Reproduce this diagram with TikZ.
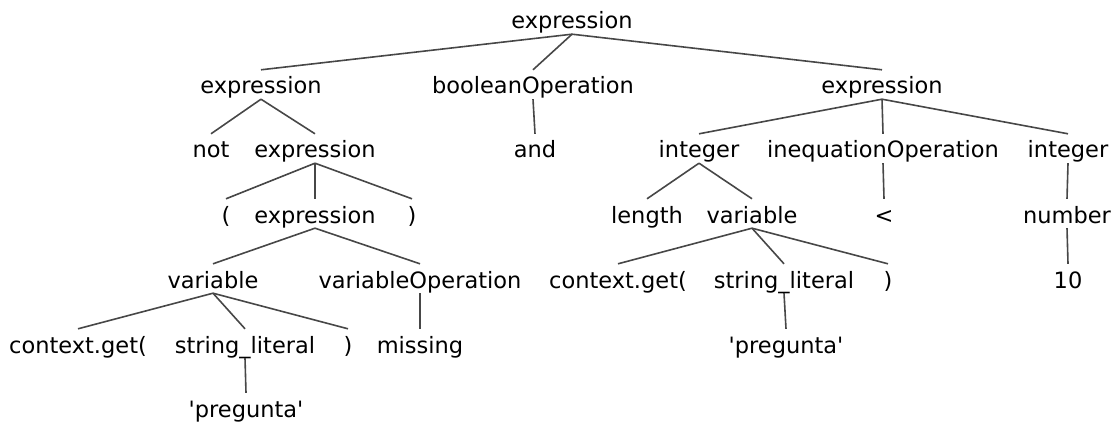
\documentclass[tikz,border=0pt]{standalone}
\usepackage{fontspec}
% a family without TeX ligatures keeps the straight quote
\newfontfamily\treefont{DejaVu Sans}
\begin{document}
\begin{tikzpicture}[x=1pt,y=-1pt,
  tok/.style={anchor=base,inner xsep=0pt,inner ysep=0pt,
    text height=24pt,text depth=5pt,font=\treefont\fontsize{22.5}{26}\selectfont},
  edge/.style={draw=black!72,line width=1.6pt}]
\useasboundingbox (0,0) rectangle (1115,422);
% baselines of the seven rows
\def\ra{29}\def\rb{94}\def\rc{158}\def\rd{223}\def\re{288}\def\rf{353}\def\rg{417}
% row 0
\node[tok] (r)   at (572,\ra) {expression};
% row 1
\node[tok] (e1)  at (261,\rb) {expression};
\node[tok] (bo)  at (533,\rb) {booleanOperation};
\node[tok] (e2)  at (882,\rb) {expression};
% row 2
\node[tok] (nt)  at (211,\rc) {not};
\node[tok] (e3)  at (315,\rc) {expression};
\node[tok] (an)  at (535,\rc) {and};
\node[tok] (i1)  at (699,\rc) {integer};
\node[tok] (io)  at (883,\rc) {inequationOperation};
\node[tok] (i2)  at (1068,\rc) {integer};
% row 3
\node[tok] (lp)  at (226,\rd) {(};
\node[tok] (e4)  at (315,\rd) {expression};
\node[tok] (rp)  at (412,\rd) {)};
\node[tok] (len) at (647,\rd) {length};
\node[tok] (v2)  at (752,\rd) {variable};
\node[tok] (lt)  at (884,\rd) {<};
\node[tok] (num) at (1067,\rd) {number};
% row 4
\node[tok] (v1)  at (213,\re) {variable};
\node[tok] (vo)  at (420,\re) {variableOperation};
\node[tok] (cg2) at (618,\re) {context.get(};
\node[tok] (sl2) at (784,\re) {string\_literal};
\node[tok] (rq)  at (888,\re) {)};
\node[tok] (ten) at (1068,\re) {10};
% row 5
\node[tok] (cg1) at (78,\rf) {context.get(};
\node[tok] (sl1) at (245,\rf) {string\_literal};
\node[tok] (rq1) at (348,\rf) {)};
\node[tok] (mis) at (420,\rf) {missing};
\node[tok] (pq2) at (786,\rf) {'pregunta'};
% row 6
\node[tok] (pq1) at (246,\rg) {'pregunta'};
% branches
\foreach \p/\c in {r/e1,r/bo,r/e2,
  e1/nt,e1/e3,bo/an,e2/i1,e2/io,e2/i2,
  e3/lp,e3/e4,e3/rp,i1/len,i1/v2,io/lt,i2/num,
  e4/v1,e4/vo,v2/cg2,v2/sl2,v2/rq,num/ten,
  v1/cg1,v1/sl1,v1/rq1,vo/mis,sl2/pq2,
  sl1/pq1}
  \draw[edge] (\p.south) -- (\c.north);
\end{tikzpicture}
\end{document}
